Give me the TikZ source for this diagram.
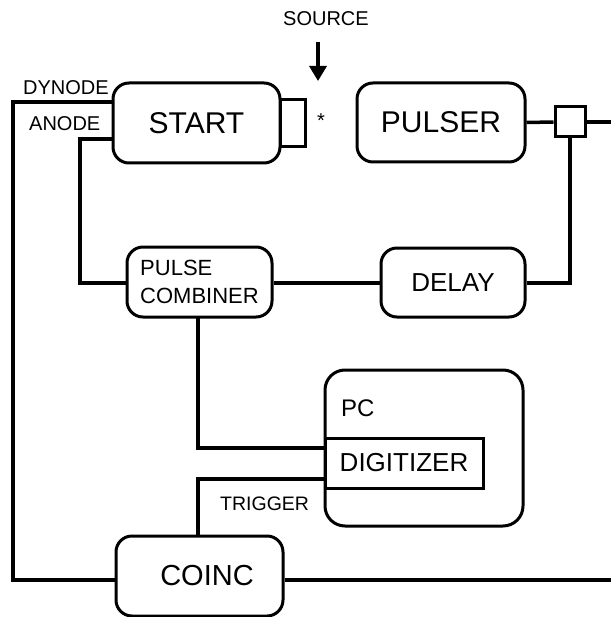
\documentclass[tikz,border=0pt]{standalone}
\usepackage{fontspec}
\setmainfont{Liberation Sans}
\usetikzlibrary{arrows.meta}
\begin{document}
\begin{tikzpicture}[x=1pt,y=-1pt,
  box/.style={draw,line width=3pt,rounded corners=16pt,inner sep=0pt},
  sqbox/.style={draw,line width=3pt,inner sep=0pt},
  wire/.style={line width=3.5pt},
  lbl/.style={inner sep=0pt,anchor=base west,font=\fontsize{20}{24}\selectfont}]
\useasboundingbox (0,0) rectangle (611,617);

% boxes
\node[box,minimum width=167pt,minimum height=80pt,font=\fontsize{30}{36}\selectfont] (start) at (196.5,123) {START};
\node[sqbox,minimum width=25pt,minimum height=47pt] (cap) at (292.5,123.5) {};
\node[box,minimum width=168pt,minimum height=79pt,font=\fontsize{30}{36}\selectfont] (pulser) at (441,122.5) {PULSER};
\node[sqbox,minimum width=30pt,minimum height=30pt,fill=white] (junc) at (570,122) {};
\node[box,minimum width=145pt,minimum height=70pt,align=left,font=\fontsize{22}{28}\selectfont] (comb) at (199.5,282) {PULSE\\COMBINER};
\node[box,minimum width=144pt,minimum height=69pt,font=\fontsize{26}{30}\selectfont] (delay) at (453,282.5) {DELAY};
\node[box,rounded corners=20pt,minimum width=198pt,minimum height=156pt] (pc) at (424,448) {};
\node[lbl,font=\fontsize{24}{28}\selectfont] (pclabel) at (341,416) {PC};
\node[sqbox,minimum width=158pt,minimum height=50pt,font=\fontsize{26}{30}\selectfont] (dig) at (404,463) {DIGITIZER};
\node[box,minimum width=167pt,minimum height=80pt,font=\fontsize{29}{34}\selectfont] (coinc) at (199.5,576) {\hspace*{15pt}COINC};

% labels
\node[lbl] (source) at (283,26) {SOURCE};
\node[lbl] (dynode) at (23,95) {DYNODE};
\node[lbl] (anode) at (29,131) {ANODE};
\node[lbl,font=\fontsize{19.5}{23}\selectfont] (trigger) at (220,510) {TRIGGER};
\node[inner sep=0pt,font=\fontsize{20}{24}\selectfont] (star) at (321,121) {*};

% coordinates
\coordinate (srctop) at (318,42);
\coordinate (srcbot) at (318,81);
\coordinate (rightA) at (611,122);
\coordinate (rightB) at (611,580);

% connectors
\draw[line width=3.5pt,-{Triangle[length=15pt,width=17pt]}] (srctop) -- (srcbot);
\draw[wire] (start.west |- 0,102) -- (13,102) -- (13,580) -- (coinc.west |- 0,580);
\draw[wire] (start.west |- 0,139) -- (80,139) -- (80,283) -- (comb.west |- 0,283);
\draw[wire] (pulser.east) -- (junc.west);
\draw[wire] (junc.east) -- (rightA);
\draw[wire] (junc.south) -- (570,283) -- (delay.east |- 0,283);
\draw[wire] (comb.east |- 0,283) -- (delay.west |- 0,283);
\draw[wire] (198,317) -- (198,448) -- (dig.west |- 0,448);
\draw[wire] (198,536) -- (198,479) -- (dig.west |- 0,479);
\draw[wire] (coinc.east |- 0,580) -- (rightB);
\end{tikzpicture}
\end{document}
